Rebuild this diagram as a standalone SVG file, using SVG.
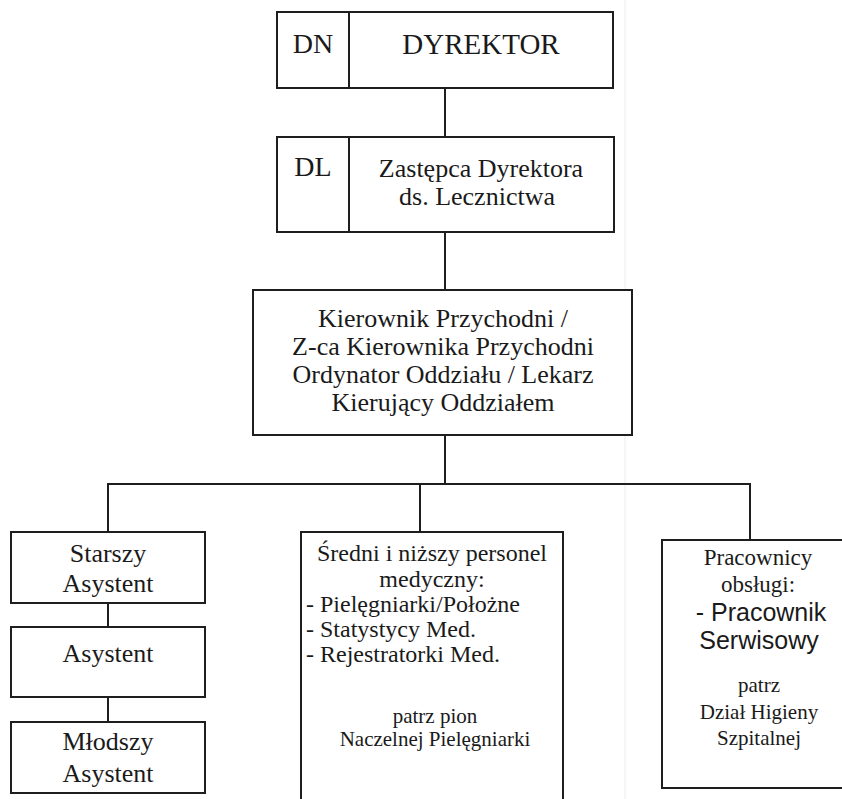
<svg xmlns="http://www.w3.org/2000/svg" width="842" height="799" viewBox="0 0 842 799">
<style>
.box{fill:#ffffff;stroke:#1e1e1e;stroke-width:2}
.ln{stroke:#1e1e1e;stroke-width:2;fill:none}
text{font-family:"Liberation Serif","Times New Roman",serif;fill:#1a1a1a;text-anchor:middle}
.t29{font-size:29px}
.t28{font-size:28px}
.t26{font-size:26px}
.t24{font-size:24px}
.t23{font-size:23px}
.t21{font-size:21px}
.sans{font-family:"Liberation Sans",Arial,sans-serif;font-size:25px}
.left{text-anchor:start}
</style>
<rect width="842" height="799" fill="#ffffff"/>
<line x1="625" y1="0" x2="625" y2="799" stroke="#ececec" stroke-width="1"/>
<g id="connectors">
<line class="ln" x1="445" y1="88" x2="445" y2="137"/>
<line class="ln" x1="445" y1="232" x2="445" y2="290"/>
<line class="ln" x1="445" y1="435" x2="445" y2="484"/>
<line class="ln" x1="107" y1="484" x2="751" y2="484"/>
<line class="ln" x1="108" y1="484" x2="108" y2="532"/>
<line class="ln" x1="420" y1="484" x2="420" y2="532"/>
<line class="ln" x1="750" y1="484" x2="750" y2="540"/>
<line class="ln" x1="108" y1="603" x2="108" y2="627"/>
<line class="ln" x1="108" y1="697" x2="108" y2="722"/>
</g>
<g id="dyrektor">
<rect class="box" x="277" y="12" width="336" height="76"/>
<line class="ln" x1="349" y1="12" x2="349" y2="88"/>
<text class="t28" x="313" y="53">DN</text>
<text class="t29" x="481" y="54">DYREKTOR</text>
</g>
<g id="zastepca">
<rect class="box" x="277" y="137" width="337" height="95"/>
<line class="ln" x1="349" y1="137" x2="349" y2="232"/>
<text class="t28" x="313" y="176">DL</text>
<text class="t26" x="481" y="177">Zastępca Dyrektora</text>
<text class="t26" x="477" y="205">ds. Lecznictwa</text>
</g>
<g id="kierownik">
<rect class="box" x="253" y="290" width="379" height="145"/>
<text class="t26" x="443" y="327">Kierownik Przychodni /</text>
<text class="t26" x="443" y="355">Z-ca Kierownika Przychodni</text>
<text class="t26" x="443" y="383">Ordynator Oddziału / Lekarz</text>
<text class="t26" x="443" y="411">Kierujący Oddziałem</text>
</g>
<g id="starszy-asystent">
<rect class="box" x="11" y="532" width="194" height="71"/>
<text class="t26" x="108" y="562">Starszy</text>
<text class="t26" x="108" y="592">Asystent</text>
</g>
<g id="asystent">
<rect class="box" x="11" y="627" width="194" height="70"/>
<text class="t26" x="108" y="662">Asystent</text>
</g>
<g id="mlodszy-asystent">
<rect class="box" x="11" y="722" width="194" height="71"/>
<text class="t26" x="108" y="750">Młodszy</text>
<text class="t26" x="108" y="782">Asystent</text>
</g>
<g id="personel-medyczny">
<rect class="box" x="301" y="532" width="262" height="270"/>
<text class="t24" x="432" y="561">Średni i niższy personel</text>
<text class="t24" x="432" y="587">medyczny:</text>
<text class="t24 left" x="306" y="612">- Pielęgniarki/Położne</text>
<text class="t24 left" x="306" y="637">- Statystycy Med.</text>
<text class="t24 left" x="306" y="662">- Rejestratorki Med.</text>
<text class="t21" x="435" y="723">patrz pion</text>
<text class="t21" x="435" y="746">Naczelnej Pielęgniarki</text>
</g>
<g id="pracownicy-obslugi">
<rect class="box" x="662" y="540" width="200" height="248"/>
<text class="t23" x="758" y="565">Pracownicy</text>
<text class="t23" x="758" y="592">obsługi:</text>
<text class="sans" x="761" y="621">- Pracownik</text>
<text class="sans" x="759" y="649">Serwisowy</text>
<text class="t21" x="759" y="692">patrz</text>
<text class="t21" x="759" y="719">Dział Higieny</text>
<text class="t21" x="759" y="745">Szpitalnej</text>
</g>
</svg>
